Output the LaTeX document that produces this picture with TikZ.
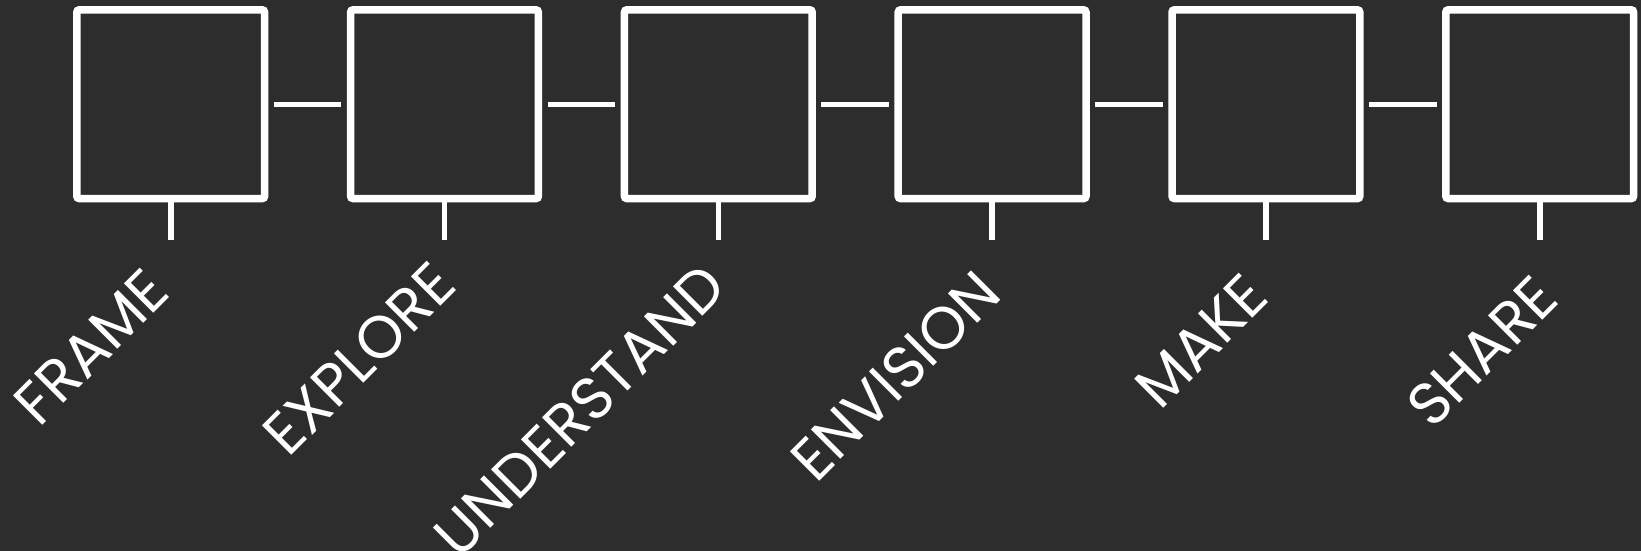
\documentclass[tikz,border=0pt]{standalone}
\usepackage{fontspec}
\setmainfont{Poppins}
\definecolor{bg}{HTML}{2D2D2D}
\begin{document}
\begin{tikzpicture}[x=1pt,y=-1pt,
  stage/.style={draw=white, line width=7.5pt, minimum width=187.8pt, minimum height=188.8pt, inner sep=0pt, rounded corners=2.5pt},
  link/.style={draw=white, line width=5.3pt, shorten <=5.4pt, shorten >=5.4pt},
  tick/.style={draw=white, line width=5.6pt},
  lbl/.style={text=white, rotate=45, anchor=base east, inner sep=0pt, font=\fontsize{59.5}{66}\selectfont}]
\fill[bg] (0,0) rectangle (1641,551);
\useasboundingbox (0,0) rectangle (1641,551);
\foreach \i in {1,...,6} {
  \node[stage] (b\i) at ({170.7+273.8*(\i-1)},104.2) {};
  \coordinate (t\i) at (b\i.south |- 0,240);
  \draw[tick] (b\i.south) -- (t\i);
}
\foreach \i/\j in {1/2,2/3,3/4,4/5,5/6} \draw[link] (b\i) -- (b\j);
\node[lbl] (l1) at (172.5,295) {FRAME};
\node[lbl] (l2) at (459.3,288) {EXPLORE};
\node[lbl] (l3) at (729.5,290) {UNDERSTAND};
\node[lbl] (l4) at (1004,296.5) {ENVISION};
\node[lbl] (l5) at (1271.5,300) {MAKE};
\node[lbl] (l6) at (1561.5,301.5) {SHARE};
\end{tikzpicture}
\end{document}
